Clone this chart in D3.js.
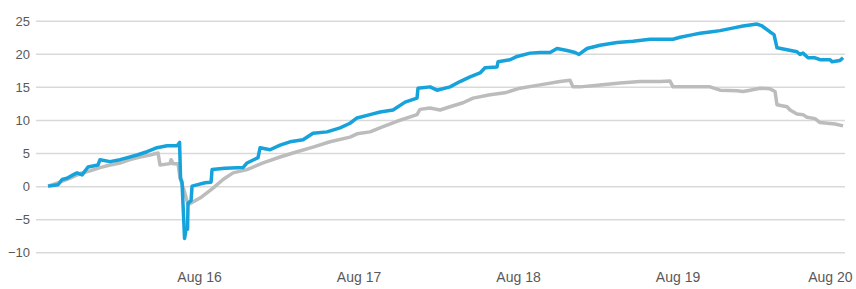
<!DOCTYPE html>
<html>
<head>
<meta charset="utf-8">
<script src="https://cdn.jsdelivr.net/npm/d3@7"></script>
<style>
 body { margin: 0; background: #fff; }
 .grid line { stroke: #d9d9d9; stroke-width: 1.5; }
 .grid path { display: none; }
 .axis path, .axis line { display: none; }
 .axis text { fill: #595959; font-family: "Liberation Sans", Arial, sans-serif; }
</style>
</head>
<body>
<svg width="856" height="289"></svg>
<script>
// hours since Aug 15 00:00
const blueHours = [1.28, 2.78, 3.39, 4.14, 5.04, 5.64, 6.40, 7.30, 8.80, 9.10, 10.61, 12.11, 13.62, 14.67, 16.18, 17.68, 19.18, 20.69, 21.07, 21.22, 21.44, 21.82, 22.04, 22.27, 22.34, 22.80, 22.95, 24.90, 25.81, 25.96, 27.91, 30.62, 31.22, 32.88, 33.18, 34.68, 36.19, 37.69, 39.65, 41.15, 43.26, 45.22, 46.72, 47.77, 49.73, 51.24, 53.19, 55.00, 56.80, 56.95, 58.76, 59.81, 61.77, 63.27, 64.78, 66.28, 67.03, 68.84, 68.99, 70.80, 71.85, 73.81, 75.31, 76.82, 77.87, 79.37, 80.58, 81.18, 82.38, 84.34, 86.90, 89.30, 91.86, 95.32, 96.38, 98.33, 99.38, 100.89, 102.40, 103.90, 105.86, 107.96, 108.72, 109.92, 110.52, 110.97, 112.48, 113.98, 114.43, 114.88, 115.64, 116.69, 117.44, 118.95, 119.25, 120.45, 120.91];
const blueValues = [0, 0.2, 1.0, 1.2, 1.7, 2.0, 1.7, 2.9, 3.2, 4.0, 3.7, 4.0, 4.4, 4.7, 5.2, 5.8, 6.1, 6.1, 6.6, 1.2, 0.6, -7.9, -6.6, -6.5, -2.6, -2.2, 0, 0.5, 0.6, 2.5, 2.7, 2.8, 3.5, 4.3, 5.8, 5.5, 6.2, 6.7, 7.0, 8.0, 8.2, 8.8, 9.5, 10.3, 10.8, 11.2, 11.5, 12.7, 13.3, 14.8, 15.0, 14.5, 15.0, 15.8, 16.5, 17.1, 17.9, 18.0, 18.8, 19.1, 19.6, 20.1, 20.2, 20.2, 20.8, 20.5, 20.2, 19.9, 20.8, 21.3, 21.7, 21.9, 22.2, 22.2, 22.5, 22.9, 23.1, 23.3, 23.5, 23.8, 24.2, 24.5, 24.2, 23.3, 22.9, 20.9, 20.6, 20.3, 19.9, 20.1, 19.4, 19.4, 19.1, 19.1, 18.8, 19.0, 19.4];

const grayHours = [1.28, 3.08, 4.59, 6.09, 7.60, 9.10, 10.61, 12.11, 13.62, 15.12, 16.63, 17.83, 18.13, 19.64, 19.79, 20.09, 20.84, 21.14, 21.74, 22.34, 24.15, 26.11, 27.61, 29.12, 31.22, 33.63, 36.19, 38.75, 41.15, 43.71, 46.72, 47.77, 49.73, 51.69, 53.79, 56.80, 57.25, 58.76, 60.26, 61.77, 63.73, 65.23, 67.79, 70.04, 72.30, 75.31, 78.32, 79.82, 80.27, 81.33, 84.34, 87.35, 90.36, 93.37, 94.87, 95.32, 97.88, 100.89, 102.40, 104.95, 105.86, 106.92, 108.42, 109.92, 110.67, 110.97, 112.48, 112.93, 113.98, 114.88, 115.48, 116.69, 117.44, 119.70, 120.91];
const grayValues = [0, 0.6, 1.2, 1.9, 2.3, 2.8, 3.2, 3.5, 4.0, 4.4, 4.7, 5.0, 3.2, 3.4, 4.0, 3.4, 3.4, 1.2, -0.6, -2.8, -1.8, -0.3, 1.0, 2.0, 2.5, 3.5, 4.4, 5.2, 5.9, 6.7, 7.4, 7.9, 8.2, 9.0, 9.8, 10.8, 11.6, 11.8, 11.5, 12.0, 12.6, 13.3, 13.8, 14.1, 14.8, 15.3, 15.8, 16.0, 15.0, 15.0, 15.3, 15.6, 15.8, 15.8, 15.9, 15.0, 15.0, 15.0, 14.5, 14.4, 14.3, 14.5, 14.8, 14.7, 14.3, 12.3, 12.0, 11.5, 10.9, 10.8, 10.4, 10.2, 9.6, 9.4, 9.1];

const yTicks = [-10, -5, 0, 5, 10, 15, 20, 25];
const xTickDays = ["2021-08-16", "2021-08-17", "2021-08-18", "2021-08-19", "2021-08-20"];

const start = new Date(2021, 7, 15, 0, 0);
const toDate = h => new Date(start.getTime() + h * 3600 * 1000);

const svg = d3.select("svg");

const xScale = d3
 .scaleTime()
 .domain([new Date(2021, 7, 14, 23, 28), new Date(2021, 7, 20, 1, 12)])
 .range([36, 845]);

const yScale = d3
 .scaleLinear()
 .domain([-10, 25])
 .range([252.3, 20.7]);

// horizontal grid
svg
 .append("g")
 .attr("class", "grid")
 .attr("transform", "translate(36,0)")
 .call(
  d3.axisLeft(yScale)
   .tickValues(yTicks)
   .tickSize(-809)
   .tickFormat("")
 );

svg
 .append("g")
 .attr("class", "axis")
 .attr("transform", "translate(36,0)")
 .call(d3.axisLeft(yScale).tickValues(yTicks).tickSize(0).tickPadding(6))
 .selectAll("text")
 .attr("font-size", 13)
 .attr("dy", "0.35em");

const parse = d3.timeParse("%Y-%m-%d");
const xLabels = svg
 .append("g")
 .attr("class", "axis")
 .attr("transform", "translate(0,269)")
 .call(
  d3.axisBottom(xScale)
   .tickValues(xTickDays.map(parse))
   .tickFormat(d3.timeFormat("%b %d"))
   .tickSize(0)
 )
 .selectAll("text")
 .attr("font-size", 14);

// last label sits against the right edge
xLabels
 .filter((d, i, n) => i === n.length - 1)
 .attr("text-anchor", "end")
 .attr("x", 852 - xScale(parse(xTickDays[xTickDays.length - 1])));

const line = d3
 .line()
 .x(d => xScale(toDate(d[0])))
 .y(d => yScale(d[1]));

const grayData = grayHours.map((h, i) => [h, grayValues[i]]);
const blueData = blueHours.map((h, i) => [h, blueValues[i]]);

svg
 .append("path")
 .datum(grayData)
 .attr("fill", "none")
 .attr("stroke", "#bcbcbc")
 .attr("stroke-width", 3.5)
 .attr("stroke-linejoin", "round")
 .attr("d", line);

svg
 .append("path")
 .datum(blueData)
 .attr("fill", "none")
 .attr("stroke", "#16a2db")
 .attr("stroke-width", 3.5)
 .attr("stroke-linejoin", "round")
 .attr("d", line);
</script>
</body>
</html>
